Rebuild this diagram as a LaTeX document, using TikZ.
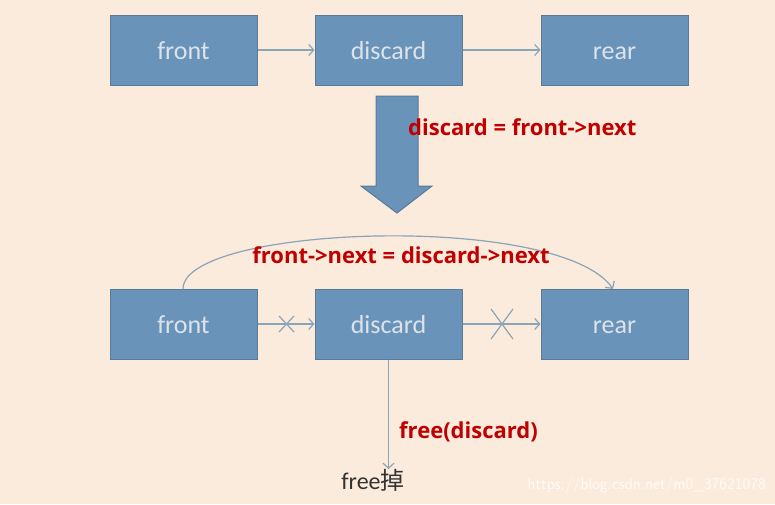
\documentclass[tikz,border=0pt]{standalone}
\usepackage{fontspec}
\setmainfont{Carlito}
\newfontfamily\labfont{Open Sans}
\newfontfamily\cjk{Noto Sans CJK SC}
\usetikzlibrary{arrows.meta}
\definecolor{bg}{HTML}{FBEBDC}
\definecolor{boxfill}{HTML}{6A93BA}
\definecolor{boxline}{HTML}{5A7A98}
\definecolor{boxtext}{HTML}{DCE3EA}
\definecolor{conn}{HTML}{8AA4B8}
\definecolor{redtxt}{HTML}{C00000}
\tikzset{
  listbox/.style={draw=boxline, line width=1pt, fill=boxfill, minimum width=147pt, minimum height=70pt, inner sep=0pt, text=boxtext, text height=23pt, text depth=4pt, font=\fontsize{26}{30}\selectfont},
  link/.style={draw=conn, line width=1.2pt, -{Straight Barb[length=5pt,width=11pt,line width=1.2pt]}},
  crossmark/.style={draw=conn, line width=1.2pt},
  redlabel/.style={text=redtxt, font=\labfont\bfseries\fontsize{22}{26}\selectfont, inner sep=0pt},
}
\begin{document}
\begin{tikzpicture}[x=1pt,y=-1pt]
\fill[bg] (0,0) rectangle (775,504);
\useasboundingbox (0,0) rectangle (775,504);
% top row
\node[listbox] (f1) at (183.5,50) {front};
\node[listbox] (d1) at (388.5,50) {discard};
\node[listbox] (r1) at (614.5,50) {rear};
\draw[link] (f1) -- (d1);
\draw[link] (d1) -- (r1);
% big arrow
\draw[boxline, fill=boxfill, line width=1pt] (376,96) -- (418,96) -- (418,186) -- (432,186) -- (397,213) -- (361,186) -- (376,186) -- cycle;
\node[redlabel, anchor=west] (l1) at (408,127) {discard = front->next};
% bottom row
\node[listbox] (f2) at (183.5,324) {front};
\node[listbox] (d2) at (388.5,324) {discard};
\node[listbox] (r2) at (614.5,324) {rear};
\draw[link] (f2) -- (d2);
\draw[link] (d2) -- (r2);
\draw[crossmark] (279,316) -- (294,332) (279,332) -- (294,316);
\draw[crossmark] (491,309) -- (513,339) (491,339) -- (513,309);
\coordinate (fs) at (183,289);
\coordinate (rt) at (613,289);
\draw[link] (fs) .. controls (183,225) and (560,212) .. (rt);
\node[redlabel] (l2) at (401,255) {front->next = discard->next};
% free
\node[inner sep=0pt, anchor=north, font=\fontsize{24}{28}\selectfont, text=black!80] (fr) at (373,469) {free\cjk 掉};
\draw[link] (d2.south) -- (fr.north -| d2.south);
\node[redlabel, anchor=west] (l3) at (399,432) {free(discard)};
\node[anchor=east, inner sep=0pt, text=white, opacity=0.75, font=\sffamily\fontsize{16.5}{19}\selectfont] (wm) at (766,485) {https://blog.csdn.net/m0\_37621078};
\end{tikzpicture}
\end{document}
